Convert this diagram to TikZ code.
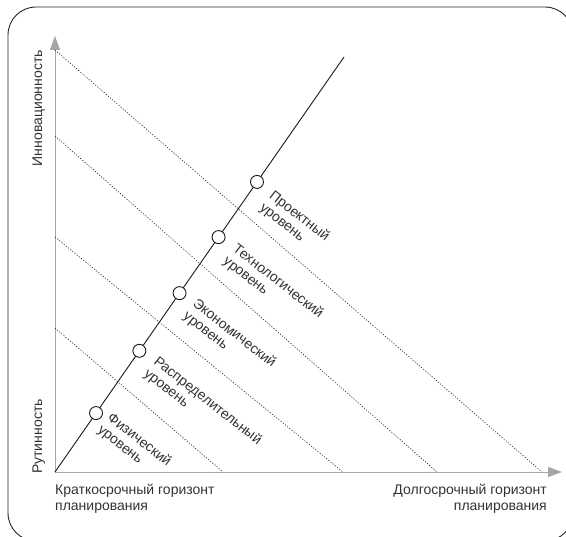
\documentclass[tikz,border=0pt]{standalone}
\usepackage{fontspec}
\setmainfont{Liberation Sans}
\usetikzlibrary{arrows.meta,calc}
\definecolor{txt}{HTML}{333333}
\definecolor{axisgray}{HTML}{A6A6A6}
\begin{document}
\begin{tikzpicture}[x=1pt,y=-1pt,
  frame/.style={draw=black!85,line width=0.9pt,rounded corners=28pt},
  axis/.style={draw=axisgray,line width=0.9pt,-{Triangle[length=14pt,width=10pt,fill=axisgray]}},
  dotline/.style={draw=black!85,line width=0.6pt,dash pattern=on 1.2pt off 1.6pt},
  mainline/.style={draw=black!90,line width=0.9pt},
  knot/.style={circle,draw=black!90,fill=white,line width=0.9pt,minimum size=13pt,inner sep=0pt},
  lvl/.style={rotate=-38,anchor=north west,align=left,inner sep=0pt,text=txt,font=\fontsize{14}{15.5}\selectfont},
  lbl/.style={inner sep=0pt,text=txt,font=\fontsize{14}{15.5}\selectfont}]
\useasboundingbox (0,0) rectangle (566,537);
\begin{scope}
\clip (0,0) rectangle (566,537);
\draw[frame] (8,270) -- (8,7) -- (573,7) -- (573,541) -- (8,541) -- cycle;
\end{scope}
% axes
\coordinate (O) at (55,472);
\coordinate (Ytip) at (55,36);
\coordinate (Xtip) at (562,472);
\draw[axis] (O) -- (Ytip);
\draw[axis] (O) -- (Xtip);
% dotted level borders
\coordinate (d1s) at (55,50);  \coordinate (d1e) at (542,472);
\coordinate (d2s) at (55,136); \coordinate (d2e) at (437,472);
\coordinate (d3s) at (55,237); \coordinate (d3e) at (343,472);
\coordinate (d4s) at (55,328); \coordinate (d4e) at (223,472);
\draw[dotline] (d1s) -- (d1e);
\draw[dotline] (d2s) -- (d2e);
\draw[dotline] (d3s) -- (d3e);
\draw[dotline] (d4s) -- (d4e);
% main line
\coordinate (T) at (344,57);
\draw[mainline] (O) -- (T);
\node[knot] (c1) at ($(O)!0.142!(T)$) {};
\node[knot] (c2) at ($(O)!0.292!(T)$) {};
\node[knot] (c3) at ($(O)!0.431!(T)$) {};
\node[knot] (c4) at ($(O)!0.566!(T)$) {};
\node[knot] (c5) at ($(O)!0.699!(T)$) {};
% level labels
\node[lvl] (l1) at ($(c1)+(17,-2)$) {Физический\\уровень};
\node[lvl] (l2) at ($(c2)+(20,4)$) {Распределительный\\уровень};
\node[lvl] (l3) at ($(c3)+(19,4)$) {Экономический\\уровень};
\node[lvl] (l4) at ($(c4)+(20,5)$) {Технологический\\уровень};
\node[lvl] (l5) at ($(c5)+(18,7)$) {Проектный\\уровень};
% axis labels
\node[lbl,rotate=90,anchor=base east] (ya) at (42,50) {Инновационность};
\node[lbl,rotate=90,anchor=base west] (yb) at (42,474) {Рутинность};
\node[lbl,anchor=north west,align=left] (xa) at (55,484) {Краткосрочный горизонт\\планирования};
\node[lbl,anchor=north east,align=right] (xb) at (547,484) {Долгосрочный горизонт\\планирования};
\end{tikzpicture}
\end{document}
